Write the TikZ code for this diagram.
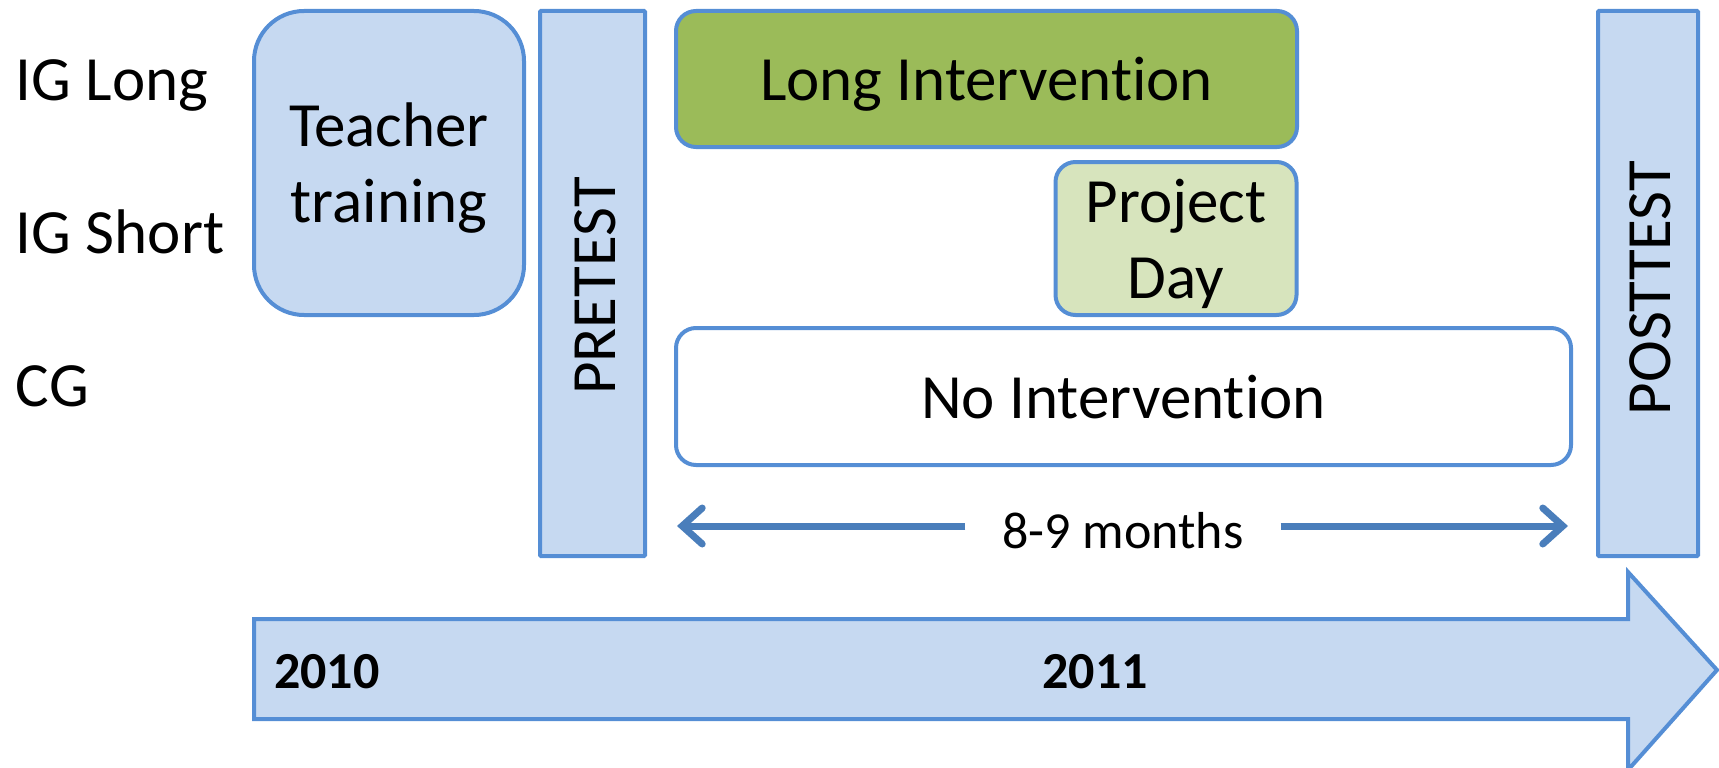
\documentclass[tikz,border=0pt]{standalone}
\usepackage{fontspec}
\setmainfont{Carlito}[RawFeature={-liga,-clig,-calt,-dlig}]
\usetikzlibrary{arrows.meta}
\definecolor{bord}{HTML}{558ED5}
\definecolor{lblue}{HTML}{C6D9F1}
\definecolor{arr}{HTML}{4A7EBB}
\definecolor{dgreen}{HTML}{9BBB59}
\definecolor{lgreen}{HTML}{D7E4BD}
\begin{document}
\begin{tikzpicture}[x=1pt,y=-1pt,
  every node/.style={inner sep=0pt,outer sep=0pt},
  big/.style={font=\fontsize{63}{76}\selectfont},
  mid/.style={font=\fontsize{52}{62}\selectfont},
  box/.style={draw=bord,line width=4pt,align=center,big,text depth=0pt},
  rbox/.style={box,rounded corners=20pt},
  bar/.style={box,fill=lblue,rounded corners=1pt},
  rowlabel/.style={big,anchor=west}]
\useasboundingbox (0,0) rectangle (1719,768);
% big timeline arrow
\draw[draw=bord,fill=lblue,line width=4pt,line join=miter]
  (254,619) -- (1628,619) -- (1628,572) -- (1717,670) -- (1628,770) -- (1628,719) -- (254,719) -- cycle;
\node[mid,font=\fontsize{52}{62}\selectfont\bfseries,anchor=west] (y2010) at (274,672) {2010};
\node[mid,font=\fontsize{52}{62}\selectfont\bfseries] (y2011) at (1095,672) {2011};
% row labels
\node[rowlabel] (iglong) at (16,85) {IG Long};
\node[rowlabel] (igshort) at (16,232) {IG Short};
\node[rowlabel] (cg) at (16,386) {CG};
% boxes
\node[box,fill=lblue,rounded corners=50pt,minimum width=270pt,minimum height=304pt] (teacher) at (389,163) {Teacher\\training};
\node[bar,minimum width=105pt,minimum height=545pt] (pre) at (592.5,283.5) {};
\node[big,rotate=90] (pretext) at (595,286) {PRETEST};
\node[rbox,fill=dgreen,minimum width=621pt,minimum height=136pt] (long) at (986.5,79) {Long Intervention};
\node[rbox,fill=lgreen,minimum width=241pt,minimum height=153pt] (proj) at (1176,238.5) {Project\\Day};
\node[rbox,fill=white,minimum width=895pt,minimum height=137pt] (none) at (1123.5,396.5) {No Intervention};
\node[bar,minimum width=100pt,minimum height=545pt] (post) at (1648,283.5) {};
\node[big,rotate=90] (posttext) at (1650,288) {POSTTEST};
% duration arrow
\coordinate (L) at (677,526);
\coordinate (R) at (1568,526);
\node[mid,inner xsep=37pt] (months) at (1123,531) {8-9 months};
\draw[arr,line width=7pt,-{Straight Barb[length=20pt,width=36pt,line cap=round]}] (months.west |- L) -- (L);
\draw[arr,line width=7pt,-{Straight Barb[length=20pt,width=36pt,line cap=round]}] (months.east |- R) -- (R);
\end{tikzpicture}
\end{document}
